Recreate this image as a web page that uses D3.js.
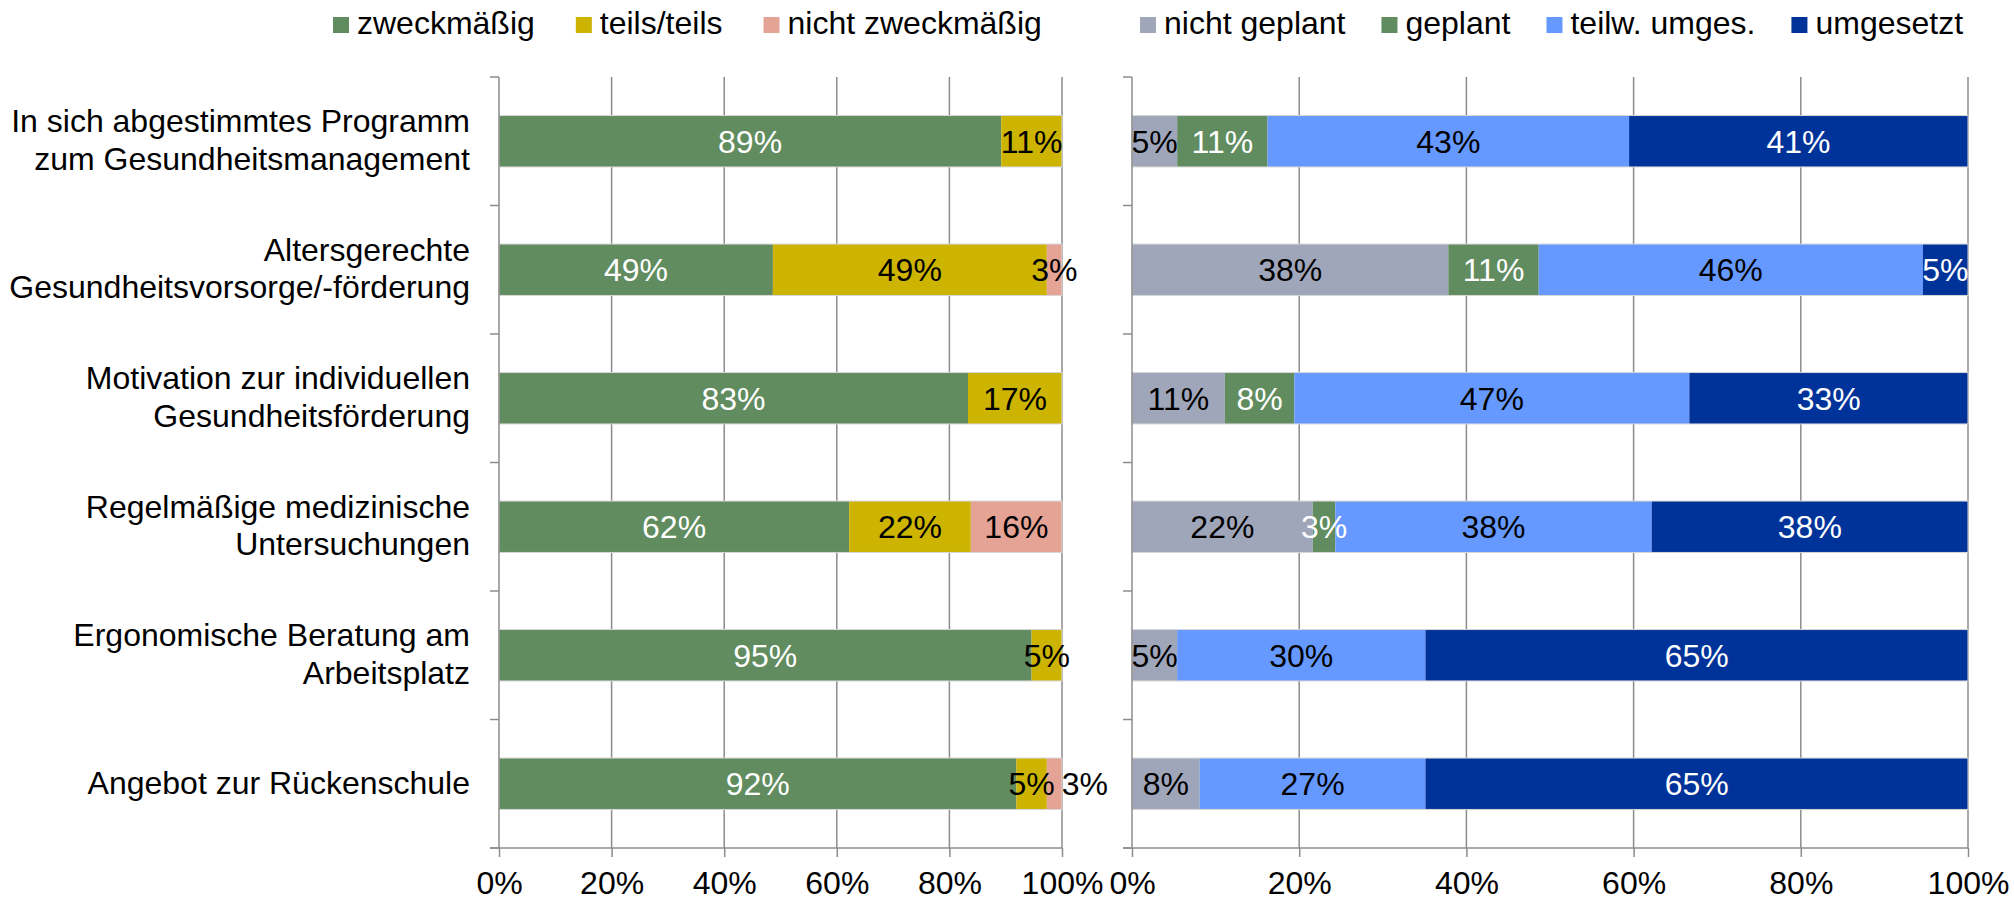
<!DOCTYPE html>
<html>
<head>
<meta charset="utf-8">
<script src="https://cdn.jsdelivr.net/npm/d3@7"></script>
<style>
  body { margin: 0; background: #fff; }
  svg text { font-family: "Liberation Sans", Arial, sans-serif; }
</style>
</head>
<body>
<div class="chart"></div>
<script>
// categories (one entry per line of the label)
const categories = [
  ['In sich abgestimmtes Programm', 'zum Gesundheitsmanagement'],
  ['Altersgerechte', 'Gesundheitsvorsorge/-förderung'],
  ['Motivation zur individuellen', 'Gesundheitsförderung'],
  ['Regelmäßige medizinische', 'Untersuchungen'],
  ['Ergonomische Beratung am', 'Arbeitsplatz'],
  ['Angebot zur Rückenschule']
];
const tickValues = [0, 20, 40, 60, 80, 100];

// left chart: rating
const seriesLeft = ['zweckmäßig', 'teils/teils', 'nicht zweckmäßig'];
const zweckmaessig = [89.2, 48.6, 83.3, 62.2, 94.6, 91.9];
const teilsTeils = [10.8, 48.6, 16.7, 21.6, 5.4, 5.4];
const nichtZweckmaessig = [0, 2.7, 0, 16.2, 0, 2.7];

// right chart: status
const seriesRight = ['nicht geplant', 'geplant', 'teilw. umges.', 'umgesetzt'];
const nichtGeplant = [5.4, 37.8, 11.1, 21.6, 5.4, 8.1];
const geplant = [10.8, 10.8, 8.3, 2.7, 0, 0];
const teilwUmges = [43.2, 45.9, 47.2, 37.8, 29.7, 27.0];
const umgesetzt = [40.5, 5.4, 33.3, 37.8, 64.9, 64.9];

const colorsLeft = ['#618c5f', '#ccb400', '#e4a395'];
const textLeft = ['#fff', '#000', '#000'];
const colorsRight = ['#a0a6ba', '#618c5f', '#6699ff', '#003399'];
const textRight = ['#000', '#fff', '#000', '#fff'];

const W = 2014;
const H = 900;
const plotTop = 77;
const plotBottom = 848;
const fontSize = 32;
const labelX = 470;

const svg = d3.select('.chart')
  .append('svg')
  .attr('width', W)
  .attr('height', H);

const y = d3.scaleBand()
  .domain(d3.range(categories.length))
  .range([plotTop, plotBottom])
  .paddingInner(0.6)
  .paddingOuter(0.3);

const yEdge = d3.scaleLinear()
  .domain([0, categories.length])
  .range([plotTop, plotBottom]);

// category labels
const label = svg.append('g')
  .selectAll('text')
  .data(categories)
  .enter()
  .append('text')
  .attr('text-anchor', 'end')
  .style('font-size', fontSize + 'px')
  .attr('fill', '#000');

label.selectAll('tspan')
  .data((d, i) => d.map((line, j) => ({ line, j, n: d.length, i })))
  .enter()
  .append('tspan')
  .attr('x', labelX)
  .attr('y', d => y(d.i) + y.bandwidth() / 2 + 9.8 + (d.j - (d.n - 1) / 2) * 37.7)
  .text(d => d.line);

function drawChart(x0, x1, series, values, colors, textColors, legendX, legendGap) {
  const x = d3.scaleLinear().domain([0, 100]).range([x0, x1]);

  // build stacked rows, normalised to 100 %
  const rows = categories.map((_, i) => {
    const vals = values.map(v => v[i]);
    const sum = d3.sum(vals);
    const row = {};
    series.forEach((s, k) => row[s] = vals[k] / sum * 100);
    return row;
  });
  const stacked = d3.stack().keys(series)(rows);

  const g = svg.append('g');

  // grid
  g.selectAll('.grid')
    .data(tickValues.slice(1))
    .enter()
    .append('line')
    .attr('x1', d => x(d)).attr('x2', d => x(d))
    .attr('y1', plotTop).attr('y2', plotBottom)
    .attr('stroke', '#8c8c8c')
    .attr('stroke-width', 1.5);

  // bars
  const layer = g.selectAll('.layer')
    .data(stacked)
    .enter()
    .append('g')
    .attr('fill', (d, k) => colors[k]);

  layer.selectAll('rect')
    .data(d => d.map((p, i) => ({ p, i })))
    .enter()
    .append('rect')
    .attr('x', d => x(d.p[0]))
    .attr('width', d => x(d.p[1]) - x(d.p[0]))
    .attr('y', d => y(d.i))
    .attr('height', y.bandwidth());

  // light border on top / bottom of bars
  g.selectAll('.edge')
    .data(categories.map((_, i) => i))
    .enter()
    .append('rect')
    .attr('x', x(0))
    .attr('width', x(100) - x(0))
    .attr('y', d => y(d))
    .attr('height', y.bandwidth())
    .attr('fill', 'none')
    .attr('stroke', '#d6d6d6')
    .attr('stroke-width', 1);

  // value labels
  const labels = [];
  stacked.forEach((s, k) => {
    s.forEach((p, i) => {
      const v = p[1] - p[0];
      if (v < 0.5) return;
      const t = g.append('text')
        .attr('x', x((p[0] + p[1]) / 2))
        .attr('y', y(i) + y.bandwidth() / 2 + fontSize * 0.358)
        .attr('text-anchor', 'middle')
        .style('font-size', fontSize + 'px')
        .attr('fill', textColors[k])
        .text(Math.round(v) + '%');
      labels.push({ t, i });
    });
  });
  // push overlapping labels to the right
  d3.groups(labels, d => d.i).forEach(([, list]) => {
    let prevRight = -Infinity;
    list.forEach(({ t }) => {
      const w = t.node().getComputedTextLength();
      let cx = +t.attr('x');
      if (cx - w / 2 < prevRight + 2) {
        cx = prevRight + 7 + w / 2;
        t.attr('x', cx);
      }
      prevRight = cx + w / 2;
    });
  });

  // category axis
  g.append('line')
    .attr('x1', x0).attr('x2', x0)
    .attr('y1', plotTop).attr('y2', plotBottom)
    .attr('stroke', '#8c8c8c').attr('stroke-width', 1.5);
  g.selectAll('.ytick')
    .data(d3.range(categories.length + 1))
    .enter()
    .append('line')
    .attr('x1', x0 - 9).attr('x2', x0)
    .attr('y1', d => yEdge(d)).attr('y2', d => yEdge(d))
    .attr('stroke', '#8c8c8c').attr('stroke-width', 1.5);

  // value axis
  const axis = g.append('g')
    .attr('transform', `translate(0, ${plotBottom})`)
    .call(d3.axisBottom(x)
      .tickValues(tickValues)
      .tickFormat(d => d + '%')
      .tickSize(9)
      .tickPadding(14));
  axis.select('.domain').remove();
  axis.selectAll('line').attr('stroke', '#8c8c8c').attr('stroke-width', 1.5);
  axis.selectAll('text')
    .attr('fill', '#000')
    .style('font-size', fontSize + 'px')
    .style('font-family', '"Liberation Sans", Arial, sans-serif');
  axis.append('line')
    .attr('x1', x0 - 9).attr('x2', x1)
    .attr('stroke', '#8c8c8c').attr('stroke-width', 1.5);

  // legend
  let lx = legendX;
  series.forEach((s, k) => {
    const item = svg.append('g').attr('transform', `translate(${lx}, 0)`);
    item.append('rect')
      .attr('y', 17)
      .attr('width', 16)
      .attr('height', 16)
      .attr('fill', colors[k]);
    const t = item.append('text')
      .attr('x', 24)
      .attr('y', 34)
      .style('font-size', fontSize + 'px')
      .attr('fill', '#000')
      .text(s);
    lx += 24 + t.node().getComputedTextLength() + legendGap;
  });
}

drawChart(499, 1062, seriesLeft, [zweckmaessig, teilsTeils, nichtZweckmaessig], colorsLeft, textLeft, 333, 41);
drawChart(1132, 1968, seriesRight, [nichtGeplant, geplant, teilwUmges, umgesetzt], colorsRight, textRight, 1140, 36);
</script>
</body>
</html>
